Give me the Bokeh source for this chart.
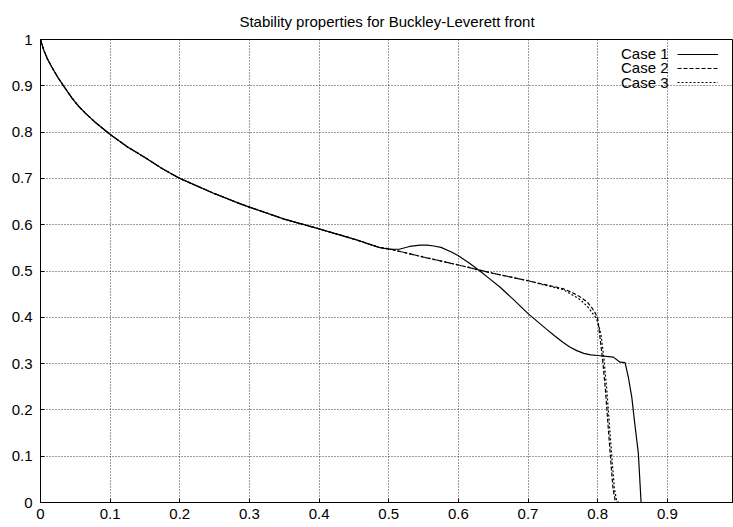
from bokeh.plotting import figure
from bokeh.models import (Range1d, FixedTicker, Legend, LegendItem, Label)
from bokeh.embed import file_html
from bokeh.resources import INLINE

# shared initial branch (identical for all three cases)
x_common = [0.0, 0.002, 0.005, 0.01, 0.016, 0.025, 0.033, 0.045, 0.054, 0.065,
            0.078, 0.1, 0.125, 0.15, 0.175, 0.2, 0.25, 0.287, 0.3, 0.35,
            0.4, 0.45, 0.486]
y_common = [1.0, 0.99, 0.976, 0.958, 0.941, 0.918, 0.9, 0.874, 0.857, 0.84,
            0.822, 0.795, 0.768, 0.745, 0.721, 0.7, 0.667, 0.645, 0.638, 0.612,
            0.591, 0.569, 0.551]

# Case 1 tail
x_case1 = [0.5, 0.515, 0.53, 0.545, 0.555, 0.565, 0.575, 0.59, 0.6, 0.615,
           0.63, 0.645, 0.66, 0.68, 0.7, 0.726, 0.738, 0.75, 0.76, 0.77,
           0.78, 0.79, 0.8, 0.8225, 0.8322, 0.8393, 0.8441, 0.849, 0.8527, 0.8584,
           0.8623, 0.995]
y_case1 = [0.547, 0.547, 0.553, 0.556, 0.556, 0.554, 0.551, 0.541, 0.533, 0.518,
           0.501, 0.483, 0.465, 0.437, 0.408, 0.375, 0.36, 0.346, 0.336, 0.328,
           0.322, 0.319, 0.3175, 0.314, 0.303, 0.302, 0.27, 0.227, 0.177, 0.106,
           0.0, 0.0]

# Case 2 tail
x_case2 = [0.5, 0.55, 0.6, 0.63, 0.65, 0.7, 0.72, 0.75, 0.764, 0.775,
           0.785, 0.792, 0.797, 0.8, 0.803, 0.807, 0.811, 0.815, 0.819, 0.822,
           0.825, 0.828, 0.995]
y_case2 = [0.548, 0.53, 0.513, 0.502, 0.495, 0.479, 0.472, 0.462, 0.453, 0.444,
           0.433, 0.42, 0.408, 0.397, 0.36, 0.31, 0.245, 0.165, 0.085, 0.03,
           0.005, 0.0, 0.0]

# Case 3 tail
x_case3 = [0.5, 0.55, 0.6, 0.63, 0.65, 0.7, 0.72, 0.75, 0.764, 0.775,
           0.785, 0.792, 0.798, 0.802, 0.805, 0.809, 0.813, 0.817, 0.821, 0.824,
           0.827, 0.83, 0.995]
y_case3 = [0.548, 0.53, 0.513, 0.502, 0.495, 0.479, 0.471, 0.46, 0.448, 0.438,
           0.424, 0.41, 0.398, 0.38, 0.36, 0.31, 0.245, 0.165, 0.085, 0.03,
           0.005, 0.0, 0.0]

x_ticks = [0.0, 0.1, 0.2, 0.3, 0.4, 0.5, 0.6, 0.7, 0.8, 0.9]
y_ticks = [0.0, 0.1, 0.2, 0.3, 0.4, 0.5, 0.6, 0.7, 0.8, 0.9, 1.0]
case_names = ["Case 1", "Case 2", "Case 3"]
case_dashes = ["solid", "4 2", "2 2"]

FONT = "Liberation Sans"
FONT_SIZE = "15px"

p = figure(width=733, height=527, output_backend="svg", toolbar_location=None,
           x_range=Range1d(0, 0.995), y_range=Range1d(0, 1.0),
           min_border_left=40, min_border_right=0, min_border_top=39,
           min_border_bottom=25,
           title="Stability properties for Buckley-Leverett front")

p.title.align = "center"
p.title.text_font = FONT
p.title.text_font_size = FONT_SIZE
p.title.text_font_style = "normal"
p.title.text_color = "black"
p.title.standoff = 20

p.outline_line_color = "black"
p.outline_line_width = 1
p.background_fill_color = "white"
p.border_fill_color = "white"

for ax in (p.xaxis[0], p.yaxis[0]):
    ax.major_tick_in = 4
    ax.major_tick_out = 0
    ax.minor_tick_line_color = None
    ax.axis_line_color = "black"
    ax.major_tick_line_color = "black"
    ax.major_label_text_font = FONT
    ax.major_label_text_font_size = FONT_SIZE
    ax.major_label_text_color = "black"

p.xaxis.ticker = FixedTicker(ticks=x_ticks)
p.yaxis.ticker = FixedTicker(ticks=y_ticks)
p.xaxis.major_label_overrides = {0: "0"}
p.yaxis.major_label_overrides = {0: "0", 1: "1"}
p.xaxis.major_label_standoff = 6
p.yaxis.major_label_standoff = 8

p.xgrid.ticker = FixedTicker(ticks=x_ticks)
p.ygrid.ticker = FixedTicker(ticks=y_ticks)
for g in (p.xgrid[0], p.ygrid[0]):
    g.grid_line_color = "#3a3a3a"
    g.grid_line_dash = "1 2"
    g.grid_line_width = 1

series = [
    (x_common + x_case1, y_common + y_case1),
    (x_common + x_case2, y_common + y_case2),
    (x_common + x_case3, y_common + y_case3),
]

renderers = []
for (xs, ys), dash in zip(series, case_dashes):
    r = p.line(xs, ys, line_color="black", line_width=1.2, line_dash=dash)
    renderers.append(r)

# key: line samples on the right, names right-aligned to their left
legend = Legend(items=[LegendItem(label=" ", renderers=[r]) for r in renderers],
                location=(637, 413), orientation="vertical",
                glyph_width=41, glyph_height=14, label_height=14,
                label_width=0, label_standoff=0, spacing=0, padding=0,
                margin=0, border_line_color=None, background_fill_alpha=0,
                label_text_font_size="9px")
p.add_layout(legend)

for i, name in enumerate(case_names):
    p.add_layout(Label(x=628, y=449 - 14.4 * i, x_units="screen", y_units="screen",
                       text=name, text_align="right", text_baseline="middle",
                       text_font=FONT, text_font_size=FONT_SIZE, text_color="black"))

open("out.html", "w").write(file_html(p, INLINE))
